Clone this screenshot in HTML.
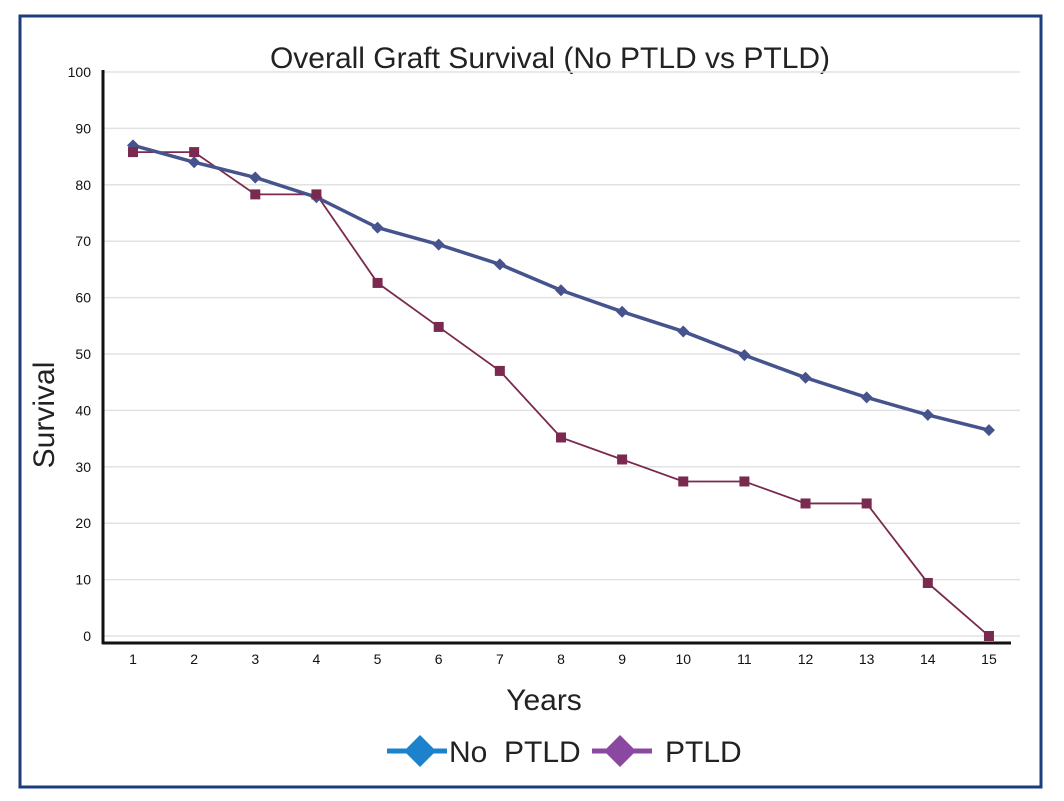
<!DOCTYPE html>
<html><head><meta charset="utf-8"><style>
body{margin:0;background:#fff;width:1064px;height:801px;overflow:hidden}
svg{display:block}
text{font-family:"Liberation Sans",sans-serif}
</style></head><body>
<svg width="1064" height="801">
<rect x="20" y="16" width="1021" height="771" fill="none" stroke="#1b3d7c" stroke-width="3"/>
<text x="550" y="68" font-size="30" text-anchor="middle" fill="#222">Overall Graft Survival (No PTLD vs PTLD)</text>
<g id="grid"></g><g id="yt"></g><g id="xt"></g>
<line x1="103" y1="70" x2="103" y2="644" stroke="#111" stroke-width="3"/>
<line x1="102" y1="643" x2="1011" y2="643" stroke="#111" stroke-width="3"/>
<g id="series"></g>
<text transform="translate(54,415) rotate(-90)" font-size="30" text-anchor="middle" fill="#222">Survival</text>
<text x="544" y="710" font-size="30" text-anchor="middle" fill="#222">Years</text>
<g>
<line x1="387" y1="751" x2="447" y2="751" stroke="#1c82cc" stroke-width="5"/>
<polygon points="420,735 436,751 420,767 404,751" fill="#1c82cc"/>
<text x="449" y="762" font-size="30" fill="#222">No&#160; PTLD</text></g>
<g>
<line x1="592" y1="751" x2="652" y2="751" stroke="#8a48a0" stroke-width="5"/>
<polygon points="620,735 636,751 620,767 604,751" fill="#8a48a0"/>
<text x="665" y="762" font-size="30" fill="#222">PTLD</text></g>
</svg>
<script>
const years=[1,2,3,4,5,6,7,8,9,10,11,12,13,14,15];
const noPtld=[87,84,81.3,77.8,72.4,69.4,65.9,61.3,57.5,54,49.8,45.8,42.3,39.2,36.5];
const ptld=[85.8,85.8,78.3,78.3,62.6,54.8,47,35.2,31.3,27.4,27.4,23.5,23.5,9.4,0];
const yTicks=[0,10,20,30,40,50,60,70,80,90,100];
const NS="http://www.w3.org/2000/svg";
const xs=v=>133+(v-1)*61.14, ys=v=>636-v*5.64;
function mk(t,a,p){const e=document.createElementNS(NS,t);for(const k in a)e.setAttribute(k,a[k]);p.appendChild(e);return e;}
const grid=document.getElementById('grid'),yt=document.getElementById('yt'),xt=document.getElementById('xt'),sg=document.getElementById('series');
yTicks.forEach(v=>{
const l=mk('line',{x1:103,x2:1020,y1:ys(v),y2:ys(v),stroke:'#e2e2e2','stroke-width':1.5},grid);


const t=mk('text',{x:91,y:ys(v)+5,'font-size':14,'text-anchor':'end',fill:'#111'},yt);t.textContent=v;


});
years.forEach(v=>{
const t=mk('text',{x:xs(v),y:664,'font-size':14,'text-anchor':'middle',fill:'#111'},xt);t.textContent=v;


});
const p2=mk('polyline',{points:years.map((y,i)=>xs(y)+','+ys(ptld[i])).join(' '),fill:'none',stroke:'#7a2a4e','stroke-width':1.8},sg);


const p1=mk('polyline',{points:years.map((y,i)=>xs(y)+','+ys(noPtld[i])).join(' '),fill:'none',stroke:'#47538c','stroke-width':3.5},sg);


years.forEach((y,i)=>{
const x=xs(y),yy=ys(noPtld[i]);
const d=mk('polygon',{points:`${x},${yy-6} ${x+6},${yy} ${x},${yy+6} ${x-6},${yy}`,fill:'#47538c'},sg);


});
years.forEach((y,i)=>{
const x=xs(y),yy=ys(ptld[i]);
const r=mk('rect',{x:x-5,y:yy-5,width:10,height:10,fill:'#7a2a4e'},sg);


});
</script>
</body></html>
